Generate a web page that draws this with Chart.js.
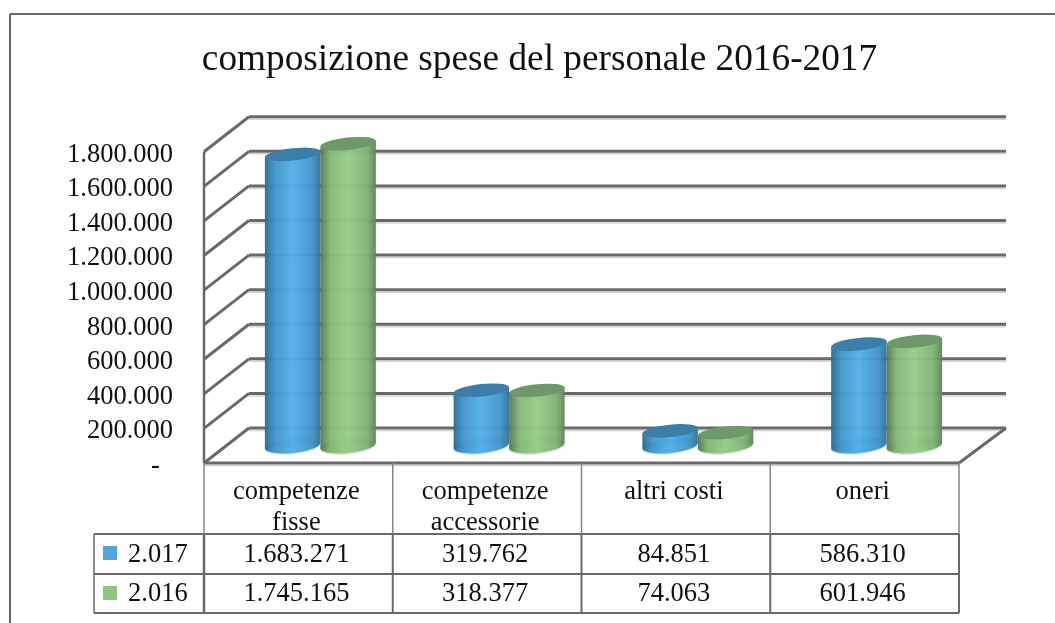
<!DOCTYPE html>
<html>
<head>
<meta charset="utf-8">
<title>composizione spese del personale 2016-2017</title>
<script src="https://cdn.jsdelivr.net/npm/chart.js@4/dist/chart.umd.min.js"></script>
<style>
  html, body { margin: 0; padding: 0; background: #fff; overflow: hidden; }
  canvas { display: block; }
</style>
</head>
<body>
<canvas id="chart" width="1055" height="623"></canvas>
<script>
  var categories = [['competenze', 'fisse'], ['competenze', 'accessorie'], 'altri costi', 'oneri'];
  var seriesNames = ['2.017', '2.016'];
  var values2017 = [1683271, 319762, 84851, 586310];
  var values2016 = [1745165, 318377, 74063, 601946];
  var titleText = 'composizione spese del personale 2016-2017';

  var FONT = '"Liberation Serif", "Times New Roman", serif';
  var LINE = '#696969';
  var SHADOW = '#d4d4d4';
  var DEPTH_X = 45;
  var DEPTH_Y = 35;
  var TILT = 6 * Math.PI / 180;
  var COLORS = [
    { swatch: '#4fa6dc', top: '#3b7fa9', glow: '#cde8f8',
      stops: ['#2a6a92', '#4396ca', '#52b0e8', '#4295c8', '#2f7399'] },
    { swatch: '#8fc583', top: '#6d9867', glow: '#d8edd2',
      stops: ['#58784f', '#84b878', '#95cd87', '#80b276', '#5f8557'] },
  ];
  var STOP_POS = [0, 0.18, 0.5, 0.85, 1];

  function fmtNumber(v) {
    return String(v).replace(/\B(?=(\d{3})+$)/g, '.');
  }

  function strokeLine(ctx, x1, y1, x2, y2, color, width) {
    ctx.strokeStyle = color;
    ctx.lineWidth = width;
    ctx.beginPath();
    ctx.moveTo(x1, y1);
    ctx.lineTo(x2, y2);
    ctx.stroke();
  }

  // frame of the picture, side wall and back wall grid
  function drawWalls(chart) {
    var ctx = chart.ctx;
    var area = chart.chartArea;
    var y = chart.scales.y;
    ctx.save();
    strokeLine(ctx, 10, 14, 1055, 14, LINE, 2);
    strokeLine(ctx, 10, 14, 10, 623, LINE, 2);
    y.ticks.forEach(function (tick) {
      var py = y.getPixelForValue(tick.value);
      var backX = area.left + DEPTH_X;
      var backY = py - DEPTH_Y;
      strokeLine(ctx, backX, backY + 2.5, 1006, backY + 2.5, SHADOW, 1.5);
      strokeLine(ctx, backX, backY, 1006, backY, LINE, 3);
      strokeLine(ctx, area.left, py, backX, backY, LINE, 3);
    });
    strokeLine(ctx, area.left, area.top, area.left, area.bottom, LINE, 2.5);
    strokeLine(ctx, area.right, area.bottom, 1006, area.bottom - DEPTH_Y, LINE, 3);
    ctx.restore();
  }

  function drawCylinder(ctx, bar, colors) {
    var rw = bar.width / 2;
    var cx = bar.x + DEPTH_X / 2 - 0.5;
    var top = bar.y - DEPTH_Y / 2;
    var base = bar.base - DEPTH_Y / 2;
    var rx = rw / Math.cos(TILT);
    var ry = 6.2;
    var dy = rw * Math.tan(TILT);
    var grad = ctx.createLinearGradient(cx - rw, 0, cx + rw, 0);
    STOP_POS.forEach(function (p, i) { grad.addColorStop(p, colors.stops[i]); });

    ctx.save();
    ctx.globalAlpha = 0.96;
    ctx.fillStyle = colors.glow;
    ctx.beginPath();
    ctx.ellipse(cx, base + 1.5, rx, 7.5, -TILT, 0, Math.PI * 2);
    ctx.fill();

    ctx.fillStyle = grad;
    ctx.beginPath();
    ctx.ellipse(cx, base, rx, 7.5, -TILT, 0, Math.PI * 2);
    ctx.fill();
    ctx.beginPath();
    ctx.moveTo(cx - rw, top + dy);
    ctx.lineTo(cx - rw, base + dy);
    ctx.lineTo(cx + rw, base - dy);
    ctx.lineTo(cx + rw, top - dy);
    ctx.closePath();
    ctx.fill();

    ctx.globalAlpha = 1;
    ctx.fillStyle = colors.top;
    ctx.beginPath();
    ctx.ellipse(cx, top, rx, ry, -TILT, 0, Math.PI * 2);
    ctx.fill();
    ctx.restore();
  }

  // data table below the plot, built from the x scale
  function drawTable(chart) {
    var ctx = chart.ctx;
    var x = chart.scales.x;
    var area = chart.chartArea;
    var step = (area.right - area.left) / categories.length;
    var rows = [534, 574, 613];
    var legendLeft = 94;
    var rowValues = [values2017, values2016];
    var i;

    ctx.save();
    strokeLine(ctx, area.left, area.bottom + 2.5, area.right, area.bottom + 2.5, SHADOW, 1.5);
    strokeLine(ctx, area.left, area.bottom, area.right, area.bottom, LINE, 3);
    rows.forEach(function (ry) {
      strokeLine(ctx, legendLeft, ry, area.right, ry, LINE, 2);
    });
    strokeLine(ctx, legendLeft, rows[0], legendLeft, rows[2], LINE, 1.5);
    for (i = 0; i <= categories.length; i++) {
      var vx = area.left + i * step;
      strokeLine(ctx, vx, area.bottom, vx, rows[0], '#868686', 1.5);
      strokeLine(ctx, vx, rows[0], vx, rows[2], LINE, i === 0 ? 2.5 : 2);
    }

    ctx.fillStyle = '#111';
    ctx.font = '26.5px ' + FONT;
    ctx.textBaseline = 'middle';
    rowValues.forEach(function (vals, r) {
      var cy = (rows[r] + rows[r + 1]) / 2;
      ctx.fillStyle = COLORS[r].swatch;
      ctx.fillRect(103, Math.round(cy) - 8, 14, 14);
      ctx.fillStyle = '#111';
      ctx.textAlign = 'left';
      ctx.fillText(seriesNames[r], 128, cy + 1);
      ctx.textAlign = 'center';
      vals.forEach(function (v, c) {
        ctx.fillText(fmtNumber(v), x.getPixelForValue(c) - 2, cy + 1);
      });
    });
    ctx.restore();
  }

  var cylinderPlugin = {
    id: 'cylinders',
    // the title is centred on the picture's plot and wall, not on the front plane only
    afterLayout: function (chart) {
      chart.titleBlock.left += 120;
    },
    beforeDatasetsDraw: function (chart) {
      drawWalls(chart);
    },
    beforeDatasetDraw: function () {
      return false;
    },
    afterDatasetsDraw: function (chart) {
      chart.data.datasets.forEach(function (ds, i) {
        chart.getDatasetMeta(i).data.forEach(function (bar) {
          drawCylinder(chart.ctx, bar, COLORS[i]);
        });
      });
      drawTable(chart);
    },
  };

  new Chart(document.getElementById('chart').getContext('2d'), {
    type: 'bar',
    data: {
      labels: categories,
      datasets: [
        { label: seriesNames[0], data: values2017, backgroundColor: COLORS[0].swatch },
        { label: seriesNames[1], data: values2016, backgroundColor: COLORS[1].swatch },
      ],
    },
    plugins: [cylinderPlugin],
    options: {
      responsive: false,
      animation: false,
      layout: { padding: { left: 0, right: 96, top: 0, bottom: 0 } },
      datasets: { bar: { categoryPercentage: 0.588, barPercentage: 1 } },
      plugins: {
        legend: { display: false },
        tooltip: { enabled: false },
        title: {
          display: true,
          text: titleText,
          color: '#111',
          font: { family: FONT, size: 37.3, weight: 'normal', lineHeight: 1.2 },
          padding: { top: 38, bottom: 69 },
        },
      },
      scales: {
        x: {
          grid: { display: false },
          border: { display: false },
          afterFit: function (scale) { scale.height = 160; },
          ticks: {
            color: '#111',
            padding: 6,
            labelOffset: -2,
            maxRotation: 0,
            autoSkip: false,
            font: { family: FONT, size: 26.5, lineHeight: 1.17 },
          },
        },
        y: {
          min: 0,
          max: 1800000,
          grid: { display: false },
          border: { display: false },
          afterFit: function (scale) { scale.width = 204; },
          ticks: {
            stepSize: 200000,
            autoSkip: false,
            color: '#111',
            padding: 23,
            labelOffset: 3,
            font: { family: FONT, size: 26.5 },
            callback: function (v) {
              return v === 0 ? '-\u00a0\u00a0' : fmtNumber(v);
            },
          },
        },
      },
    },
  });
</script>
</body>
</html>
